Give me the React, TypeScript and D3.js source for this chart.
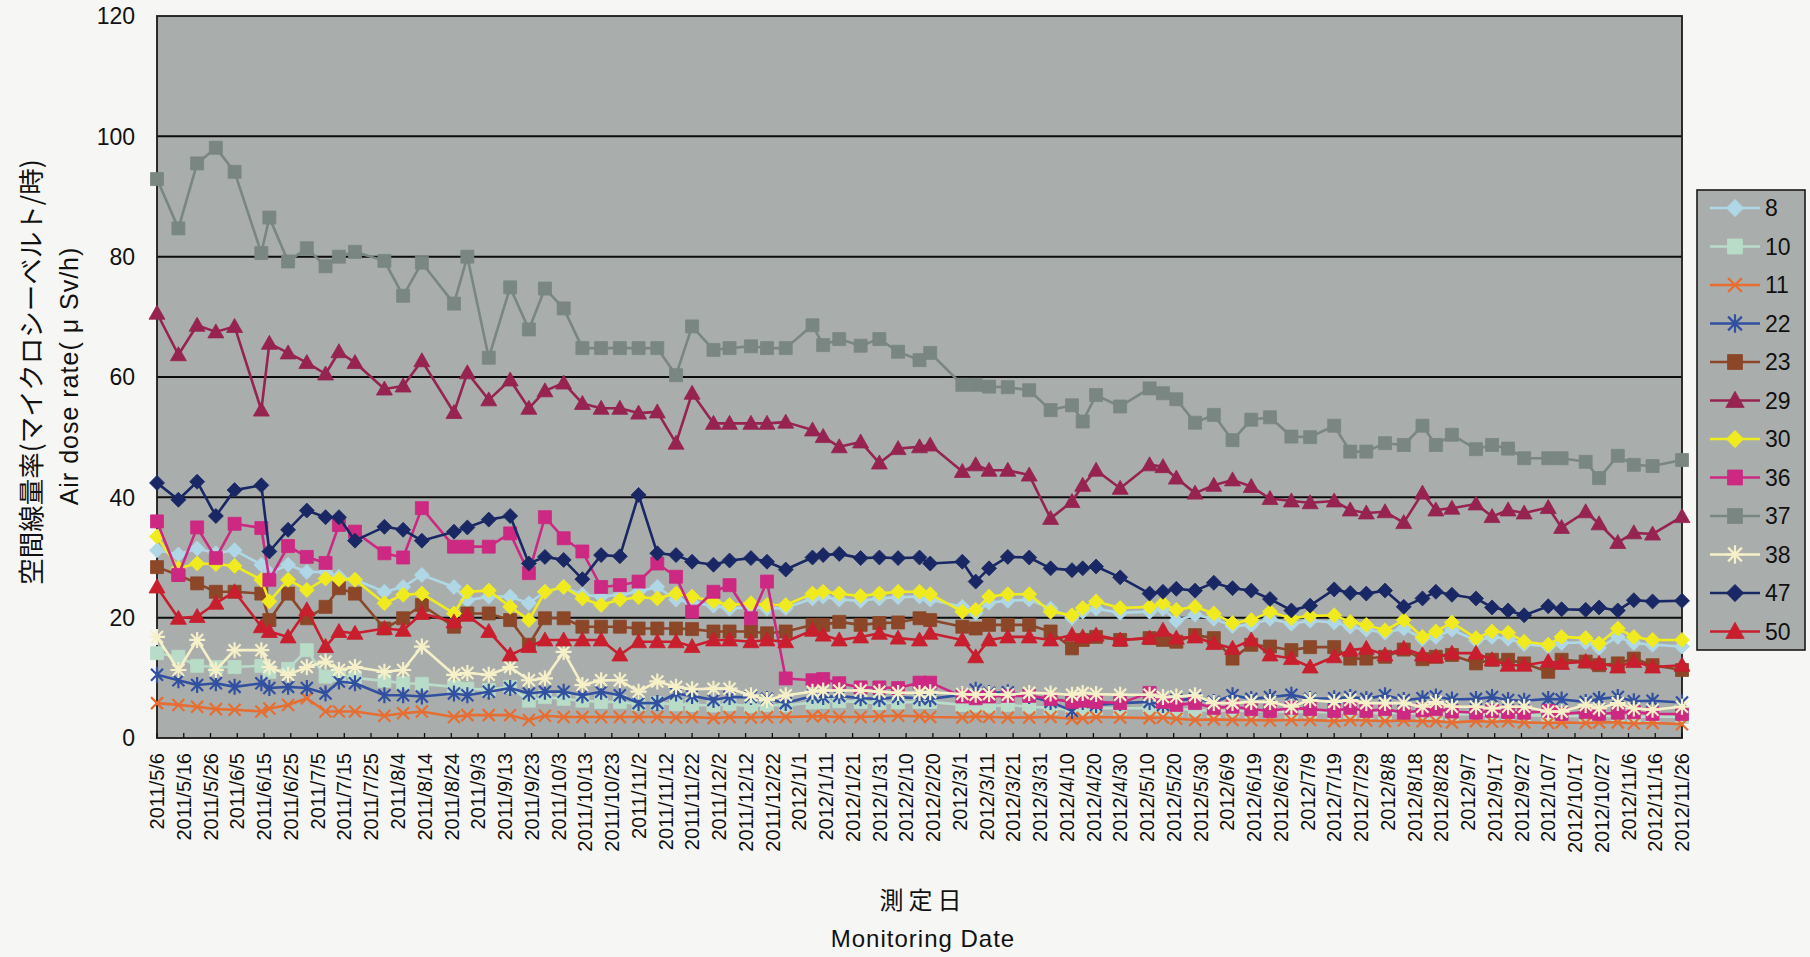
import React from "react";
import * as d3 from "d3";

const W = 1810;
const H = 957;
const plot = { left: 157, right: 1682, top: 16, bottom: 738 };

// x-axis tick labels (every 10 days)
const tickLabels = [
  "2011/5/6", "2011/5/16", "2011/5/26", "2011/6/5", "2011/6/15", "2011/6/25", "2011/7/5", "2011/7/15",
  "2011/7/25", "2011/8/4", "2011/8/14", "2011/8/24", "2011/9/3", "2011/9/13", "2011/9/23", "2011/10/3",
  "2011/10/13", "2011/10/23", "2011/11/2", "2011/11/12", "2011/11/22", "2011/12/2", "2011/12/12", "2011/12/22",
  "2012/1/1", "2012/1/11", "2012/1/21", "2012/1/31", "2012/2/10", "2012/2/20", "2012/3/1", "2012/3/11",
  "2012/3/21", "2012/3/31", "2012/4/10", "2012/4/20", "2012/4/30", "2012/5/10", "2012/5/20", "2012/5/30",
  "2012/6/9", "2012/6/19", "2012/6/29", "2012/7/9", "2012/7/19", "2012/7/29", "2012/8/8", "2012/8/18",
  "2012/8/28", "2012/9/7", "2012/9/17", "2012/9/27", "2012/10/7", "2012/10/17", "2012/10/27", "2012/11/6",
  "2012/11/16", "2012/11/26",
];
const yTicks = [0, 20, 40, 60, 80, 100, 120];

// measurement dates (shared by every monitoring point)
const measureDates = [
  "2011/5/6", "2011/5/14", "2011/5/21", "2011/5/28", "2011/6/4", "2011/6/14", "2011/6/17", "2011/6/24",
  "2011/7/1", "2011/7/8", "2011/7/13", "2011/7/19", "2011/7/30", "2011/8/6", "2011/8/13", "2011/8/25",
  "2011/8/30", "2011/9/7", "2011/9/15", "2011/9/22", "2011/9/28", "2011/10/5", "2011/10/12", "2011/10/19",
  "2011/10/26", "2011/11/2", "2011/11/9", "2011/11/16", "2011/11/22", "2011/11/30", "2011/12/6", "2011/12/14",
  "2011/12/20", "2011/12/27", "2012/1/6", "2012/1/10", "2012/1/16", "2012/1/24", "2012/1/31", "2012/2/7",
  "2012/2/15", "2012/2/19", "2012/3/2", "2012/3/7", "2012/3/12", "2012/3/19", "2012/3/27", "2012/4/4",
  "2012/4/12", "2012/4/16", "2012/4/21", "2012/4/30", "2012/5/11", "2012/5/16", "2012/5/21", "2012/5/28",
  "2012/6/4", "2012/6/11", "2012/6/18", "2012/6/25", "2012/7/3", "2012/7/10", "2012/7/19", "2012/7/25",
  "2012/7/31", "2012/8/7", "2012/8/14", "2012/8/21", "2012/8/26", "2012/9/1", "2012/9/10", "2012/9/16",
  "2012/9/22", "2012/9/28", "2012/10/7", "2012/10/12", "2012/10/21", "2012/10/26", "2012/11/2", "2012/11/8",
  "2012/11/15", "2012/11/26",
];

const s8 = [
  31.2, 30.5, 31.5, 30.7, 31.2, 28.8, 27.4, 28.8, 27.6, 27.6, 26.8, 26.3, 24.3, 25.1, 27.1, 25.1, 22.9, 23.5, 23.5, 22.4, 24.3, 25.1, 23.8, 23.5, 23.8, 24.3, 25.1,
  23.0, 22.5, 22.0, 21.5, 21.8, 21.5, 21.6, 23.2, 23.5, 23.0, 22.8, 23.2, 23.4, 23.5, 23.0, 21.8, 20.8, 22.5, 22.8, 23.0, 21.5, 20.0, 21.0, 21.5, 20.8, 21.0, 21.5,
  19.5, 20.5, 19.8, 18.6, 18.8, 19.8, 19.0, 19.5, 19.2, 18.5, 18.0, 17.5, 18.2, 16.5, 16.8, 18.0, 16.2, 16.8, 16.5, 15.6, 15.2, 15.8, 15.9, 15.0, 16.8, 15.8, 15.5, 15.2,
];
const s10 = [
  14.1, 13.5, 12.0, 11.8, 11.8, 12.0, 11.0, 11.5, 14.6, 10.2, 10.5, 10.0, 9.5, 9.1, 9.0, 8.5, 8.2, 8.0, 8.5, 6.2, 6.8, 6.5, 6.2, 6.0, 6.0, 5.6, 5.8,
  5.6, 5.5, 5.4, 5.6, 5.3, 5.5, 5.4, 5.9, 6.0, 6.1, 6.0, 5.8, 5.9, 6.0, 6.0, 5.5, 5.4, 5.3, 5.5, 5.2, 5.0, 4.6, 4.8, 5.0, 4.9, 5.0, 4.9,
  4.8, 4.7, 4.5, 4.6, 4.4, 4.5, 4.3, 4.4, 4.2, 4.3, 4.2, 4.1, 4.2, 4.0, 4.0, 3.9, 4.0, 3.8, 3.9, 3.8, 3.7, 3.7, 3.6, 3.7, 3.6, 3.5, 3.6, 3.5,
];
const s11 = [
  5.8, 5.5, 5.2, 4.8, 4.7, 4.4, 4.9, 5.5, 6.6, 4.4, 4.4, 4.4, 3.7, 4.1, 4.4, 3.5, 3.8, 3.8, 3.8, 3.0, 3.7, 3.5, 3.5, 3.5, 3.5, 3.5, 3.5,
  3.4, 3.5, 3.3, 3.5, 3.4, 3.5, 3.5, 3.6, 3.6, 3.5, 3.5, 3.6, 3.7, 3.6, 3.5, 3.4, 3.6, 3.5, 3.4, 3.4, 3.5, 3.2, 3.3, 3.5, 3.4, 3.3, 3.4,
  3.2, 3.0, 3.1, 3.0, 3.0, 2.9, 3.0, 3.0, 2.8, 3.0, 2.9, 2.8, 2.9, 2.8, 2.8, 2.6, 2.8, 2.7, 2.8, 2.6, 2.5, 2.6, 2.5, 2.6, 2.6, 2.4, 2.5, 2.3,
];
const s22 = [
  10.5, 9.6, 8.8, 9.1, 8.5, 9.1, 8.3, 8.5, 8.3, 7.4, 9.4, 9.1, 7.1, 7.1, 6.9, 7.4, 7.1, 7.7, 8.3, 7.4, 7.7, 7.7, 7.1, 7.7, 7.1, 5.8, 5.8,
  7.4, 7.0, 6.3, 6.8, 6.8, 6.5, 5.8, 7.0, 6.8, 7.0, 6.6, 6.5, 6.8, 6.6, 6.5, 7.2, 8.0, 7.5, 7.6, 7.0, 6.0, 4.5, 6.0, 5.5, 5.8, 6.0, 5.5,
  6.3, 6.5, 6.0, 7.1, 6.5, 6.8, 7.2, 6.5, 6.6, 6.8, 6.5, 7.1, 6.3, 6.6, 6.9, 6.4, 6.5, 6.8, 6.3, 6.2, 6.5, 6.4, 6.0, 6.5, 6.8, 6.1, 6.2, 5.9,
];
const s23 = [
  28.4, 27.1, 25.7, 24.3, 24.3, 24.0, 19.6, 24.0, 19.9, 21.8, 24.9, 24.0, 18.2, 19.9, 22.1, 18.5, 20.7, 20.7, 19.6, 15.5, 19.9, 19.9, 18.5, 18.5, 18.5, 18.2, 18.2,
  18.2, 18.1, 17.7, 17.7, 17.7, 17.4, 17.7, 18.8, 18.8, 19.3, 18.8, 19.1, 19.2, 19.9, 19.6, 18.5, 18.2, 18.8, 18.8, 18.8, 17.7, 14.9, 16.3, 16.8, 16.3, 16.6, 16.3,
  16.0, 17.1, 16.6, 13.2, 15.5, 15.2, 14.6, 15.1, 15.1, 13.2, 13.2, 13.5, 14.7, 13.1, 13.5, 13.8, 12.4, 13.0, 13.0, 12.4, 11.0, 13.0, 12.7, 12.1, 12.4, 13.2, 12.1, 11.3,
];
const s29 = [
  70.6, 63.7, 68.6, 67.5, 68.4, 54.5, 65.6, 64.0, 62.4, 60.5, 64.2, 62.4, 58.0, 58.5, 62.7, 54.1, 60.7, 56.2, 59.5, 54.8, 57.7, 59.0, 55.6, 54.8, 54.8, 54.0, 54.2,
  49.0, 57.3, 52.3, 52.3, 52.3, 52.3, 52.5, 51.2, 50.1, 48.4, 49.2, 45.7, 48.1, 48.4, 48.7, 44.3, 45.4, 44.5, 44.5, 43.7, 36.5, 39.3, 42.0, 44.5, 41.5, 45.4, 45.1,
  43.2, 40.7, 42.0, 42.9, 41.8, 39.8, 39.4, 39.1, 39.4, 37.9, 37.4, 37.6, 35.8, 40.7, 37.9, 38.2, 38.9, 36.8, 37.9, 37.4, 38.3, 35.0, 37.6, 35.6, 32.5, 34.1, 33.9, 36.8,
];
const s30 = [
  33.5, 28.2, 29.0, 28.9, 28.6, 26.3, 22.7, 26.3, 24.6, 26.5, 26.4, 26.3, 22.4, 23.8, 24.0, 20.7, 24.3, 24.5, 21.8, 19.6, 24.3, 25.1, 23.2, 22.1, 23.0, 23.4, 23.2,
  24.0, 23.5, 22.7, 22.1, 22.4, 22.1, 22.1, 24.0, 24.3, 24.0, 23.6, 24.0, 24.3, 24.3, 23.9, 21.0, 21.3, 23.5, 23.9, 23.9, 21.0, 20.4, 21.6, 22.7, 21.6, 21.8, 22.4,
  21.3, 21.8, 20.7, 19.1, 19.6, 21.0, 19.9, 20.3, 20.4, 19.3, 18.8, 17.9, 19.6, 16.8, 17.7, 19.2, 16.6, 17.7, 17.5, 16.0, 15.5, 16.8, 16.6, 15.7, 18.2, 16.8, 16.3, 16.3,
];
const s36 = [
  36.0, 27.1, 35.0, 29.9, 35.6, 34.9, 26.3, 31.9, 30.1, 29.1, 35.4, 34.3, 30.7, 30.0, 38.2, 31.8, 31.8, 31.8, 34.0, 27.4, 36.7, 33.2, 31.0, 25.1, 25.4, 26.0, 29.0,
  26.8, 21.0, 24.3, 25.4, 19.9, 26.0, 9.9, 9.6, 9.8, 9.1, 8.4, 8.4, 8.3, 9.2, 9.2, 6.9, 6.6, 6.9, 7.0, 7.0, 6.5, 6.0, 6.2, 6.0, 5.8, 7.5, 6.0,
  5.5, 5.8, 5.0, 5.2, 4.8, 4.5, 5.0, 4.8, 4.5, 5.0, 4.5, 4.8, 4.2, 4.6, 4.8, 4.4, 4.2, 4.5, 4.3, 4.2, 4.5, 4.0, 4.3, 4.0, 4.2, 4.3, 4.0, 4.0,
];
const s37 = [
  92.9, 84.7, 95.5, 98.1, 94.1, 80.6, 86.5, 79.2, 81.4, 78.4, 80.0, 80.8, 79.3, 73.5, 79.0, 72.2, 80.0, 63.2, 74.9, 67.9, 74.7, 71.4, 64.8, 64.8, 64.8, 64.8, 64.8,
  60.3, 68.4, 64.5, 64.8, 65.1, 64.8, 64.8, 68.6, 65.3, 66.3, 65.2, 66.3, 64.2, 62.8, 64.0, 58.7, 58.7, 58.4, 58.3, 57.8, 54.5, 55.3, 52.6, 57.0, 55.1, 58.1, 57.3,
  56.3, 52.4, 53.7, 49.5, 52.9, 53.3, 50.1, 50.0, 51.9, 47.6, 47.6, 49.0, 48.7, 51.9, 48.7, 50.4, 48.0, 48.7, 48.1, 46.5, 46.5, 46.5, 45.9, 43.2, 46.9, 45.4, 45.2, 46.2,
];
const s38 = [
  16.8, 11.3, 16.3, 11.3, 14.6, 14.6, 11.8, 10.5, 11.8, 12.7, 11.3, 11.8, 11.0, 11.3, 15.2, 10.5, 10.8, 10.5, 11.8, 9.6, 9.9, 14.3, 8.8, 9.6, 9.6, 7.7, 9.4,
  8.5, 8.1, 8.2, 8.2, 7.1, 6.3, 7.1, 7.7, 7.9, 7.9, 7.9, 7.7, 7.5, 7.5, 7.6, 7.3, 7.2, 7.3, 7.2, 7.5, 7.4, 7.2, 7.5, 7.3, 7.2, 7.2, 6.8,
  6.9, 7.1, 5.8, 5.8, 6.0, 6.0, 5.2, 6.3, 6.0, 6.3, 5.8, 5.8, 5.8, 5.2, 6.0, 5.2, 5.2, 4.9, 5.2, 5.2, 4.4, 4.4, 5.5, 4.9, 5.8, 4.9, 4.7, 5.2,
];
const s47 = [
  42.4, 39.6, 42.6, 36.9, 41.2, 42.0, 31.0, 34.6, 37.8, 36.7, 36.7, 32.8, 35.1, 34.6, 32.8, 34.3, 35.0, 36.3, 36.9, 29.0, 30.1, 29.6, 26.4, 30.4, 30.2, 40.4, 30.7,
  30.4, 29.3, 28.8, 29.5, 29.9, 29.3, 28.0, 30.0, 30.4, 30.6, 29.9, 30.0, 29.9, 30.0, 29.0, 29.3, 26.0, 28.2, 30.1, 30.0, 28.2, 27.9, 28.2, 28.5, 26.7, 24.0, 24.3,
  24.8, 24.5, 25.8, 24.9, 24.5, 23.1, 21.2, 22.0, 24.7, 24.1, 24.0, 24.5, 21.8, 23.2, 24.3, 23.8, 23.2, 21.7, 21.2, 20.4, 21.9, 21.4, 21.3, 21.7, 21.2, 22.9, 22.7, 22.8,
];
const s50 = [
  25.1, 19.9, 20.2, 22.4, 24.3, 18.5, 17.7, 16.8, 21.3, 15.2, 17.7, 17.4, 18.2, 17.9, 20.7, 19.3, 20.4, 17.7, 13.8, 15.2, 16.3, 16.3, 16.3, 16.3, 13.8, 16.0, 16.0,
  16.0, 15.2, 16.3, 16.3, 16.0, 16.3, 16.0, 17.9, 17.1, 16.3, 16.8, 17.4, 16.6, 16.3, 17.4, 16.3, 13.5, 16.3, 16.8, 16.8, 16.3, 17.1, 16.8, 17.1, 16.3, 16.6, 17.9,
  16.6, 16.8, 15.7, 14.9, 16.3, 13.8, 13.2, 11.8, 13.5, 14.6, 14.9, 13.8, 14.9, 13.8, 13.5, 14.1, 14.1, 13.0, 12.1, 12.1, 12.7, 12.4, 12.7, 12.4, 11.8, 12.7, 11.8, 12.1,
];

const seriesNames = ["8", "10", "11", "22", "23", "29", "30", "36", "37", "38", "47", "50"];
const seriesValues = [s8, s10, s11, s22, s23, s29, s30, s36, s37, s38, s47, s50];
const seriesColors = [
  "#afd7e6", "#b9dcc8", "#e66e32", "#3250a0", "#8c4628", "#962350",
  "#f0eb1e", "#cd2882", "#7a8682", "#f5f0c8", "#192864", "#c81e2d",
];
const seriesMarkers = [
  "diamond", "square", "x", "star", "square", "triangle",
  "diamond", "square", "square", "star8", "diamond", "triangle",
];

const parseDate = d3.timeParse("%Y/%m/%d");

function markerPath(kind: string, k: number): string {
  switch (kind) {
    case "diamond":
      return `M0,${-7.5 * k}L${7.5 * k},0L0,${7.5 * k}L${-7.5 * k},0Z`;
    case "square":
      return `M${-6.5 * k},${-6.5 * k}H${6.5 * k}V${6.5 * k}H${-6.5 * k}Z`;
    case "triangle":
      return `M0,${-8 * k}L${8 * k},${6 * k}L${-8 * k},${6 * k}Z`;
    case "x":
      return `M${-6 * k},${-6 * k}L${6 * k},${6 * k}M${-6 * k},${6 * k}L${6 * k},${-6 * k}`;
    case "star":
      return `M${-6 * k},${-6 * k}L${6 * k},${6 * k}M${-6 * k},${6 * k}L${6 * k},${-6 * k}M0,${-8 * k}L0,${8 * k}`;
    default:
      return `M${-6 * k},${-6 * k}L${6 * k},${6 * k}M${-6 * k},${6 * k}L${6 * k},${-6 * k}M0,${-8 * k}L0,${8 * k}M${-8 * k},0L${8 * k},0`;
  }
}

function Marker({ kind, color, x, y, k = 1 }: { kind: string; color: string; x: number; y: number; k?: number }) {
  const stroked = kind === "x" || kind === "star" || kind === "star8";
  return (
    <path
      transform={`translate(${x},${y})`}
      d={markerPath(kind, k)}
      fill={stroked ? "none" : color}
      stroke={color}
      strokeWidth={stroked ? 2.2 : 0.8}
    />
  );
}

export default function App() {
  const dates = measureDates.map((d) => parseDate(d) as Date);
  const x = d3
    .scaleTime()
    .domain([parseDate(tickLabels[0]) as Date, parseDate(tickLabels[tickLabels.length - 1]) as Date])
    .range([plot.left, plot.right]);
  const y = d3.scaleLinear().domain([0, 120]).range([plot.bottom, plot.top]);

  const line = d3
    .line<number>()
    .x((_, i) => x(dates[i]))
    .y((v) => y(v));

  const font = "'Liberation Sans', Arial, sans-serif";
  const legendTop = 208;
  const legendStep = 38.5;

  return (
    <svg
      width={W}
      height={H}
      style={{ position: "absolute", left: 0, top: 0, background: "#f6f6f4" }}
    >
      <rect x={0} y={0} width={W} height={H} fill="#f6f6f4" />
      {/* plot area */}
      <rect
        x={plot.left}
        y={plot.top}
        width={plot.right - plot.left}
        height={plot.bottom - plot.top}
        fill="#a9aeac"
      />
      {yTicks.slice(1, -1).map((t) => (
        <line key={t} x1={plot.left} x2={plot.right} y1={y(t)} y2={y(t)} stroke="#0d0d0d" strokeWidth={2} />
      ))}
      <rect
        x={plot.left}
        y={plot.top}
        width={plot.right - plot.left}
        height={plot.bottom - plot.top}
        fill="none"
        stroke="#1a1a1a"
        strokeWidth={1.8}
      />
      {tickLabels.map((t) => {
        const tx = x(parseDate(t) as Date);
        return <line key={t} x1={tx} x2={tx} y1={plot.bottom} y2={plot.bottom - 5} stroke="#111" strokeWidth={1.3} />;
      })}

      {/* series */}
      {seriesValues.map((vals, si) => (
        <g key={seriesNames[si]}>
          <path d={line(vals) || ""} fill="none" stroke={seriesColors[si]} strokeWidth={2.6} strokeLinejoin="round" />
          {vals.map((v, i) => (
            <Marker key={i} kind={seriesMarkers[si]} color={seriesColors[si]} x={x(dates[i])} y={y(v)} />
          ))}
        </g>
      ))}

      {/* y tick labels */}
      {yTicks.map((t) => (
        <text key={t} x={135} y={y(t)} dy="0.36em" textAnchor="end" fontFamily={font} fontSize={23} fill="#111">
          {t}
        </text>
      ))}

      {/* x tick labels */}
      {tickLabels.map((t) => (
        <text
          key={t}
          transform={`translate(${x(parseDate(t) as Date)},753) rotate(-90)`}
          dy="0.36em"
          textAnchor="end"
          fontFamily={font}
          fontSize={20}
          fill="#111"
        >
          {t}
        </text>
      ))}

      {/* axis titles */}
      <text
        transform="translate(31,372) rotate(-90)"
        dy="0.36em"
        textAnchor="middle"
        fontFamily="'Noto Sans CJK JP', sans-serif"
        fontSize={26.5}
        fill="#111"
      >
        空間線量率(マイクロシーベルト/時)
      </text>
      <text
        transform="translate(69,376) rotate(-90)"
        dy="0.36em"
        textAnchor="middle"
        fontFamily={font}
        fontSize={25}
        letterSpacing={1}
        fill="#111"
      >
        Air dose rate( μ Sv/h)
      </text>
      <text x={923} y={900} dy="0.36em" textAnchor="middle" fontFamily="'Noto Sans CJK JP', sans-serif" fontSize={24} letterSpacing={5} fill="#111">
        測定日
      </text>
      <text x={923} y={938} dy="0.36em" textAnchor="middle" fontFamily={font} fontSize={24} letterSpacing={1} fill="#111">
        Monitoring Date
      </text>

      {/* legend */}
      <rect x={1697} y={190} width={108} height={460} fill="#a9aeac" stroke="#1a1a1a" strokeWidth={1.6} />
      {seriesNames.map((name, i) => {
        const ly = legendTop + i * legendStep;
        return (
          <g key={name}>
            <line x1={1710} x2={1760} y1={ly} y2={ly} stroke={seriesColors[i]} strokeWidth={2.6} />
            <Marker kind={seriesMarkers[i]} color={seriesColors[i]} x={1735} y={ly} k={1.15} />
            <text x={1765} y={ly} dy="0.36em" fontFamily={font} fontSize={23} fill="#111">
              {name}
            </text>
          </g>
        );
      })}
    </svg>
  );
}
